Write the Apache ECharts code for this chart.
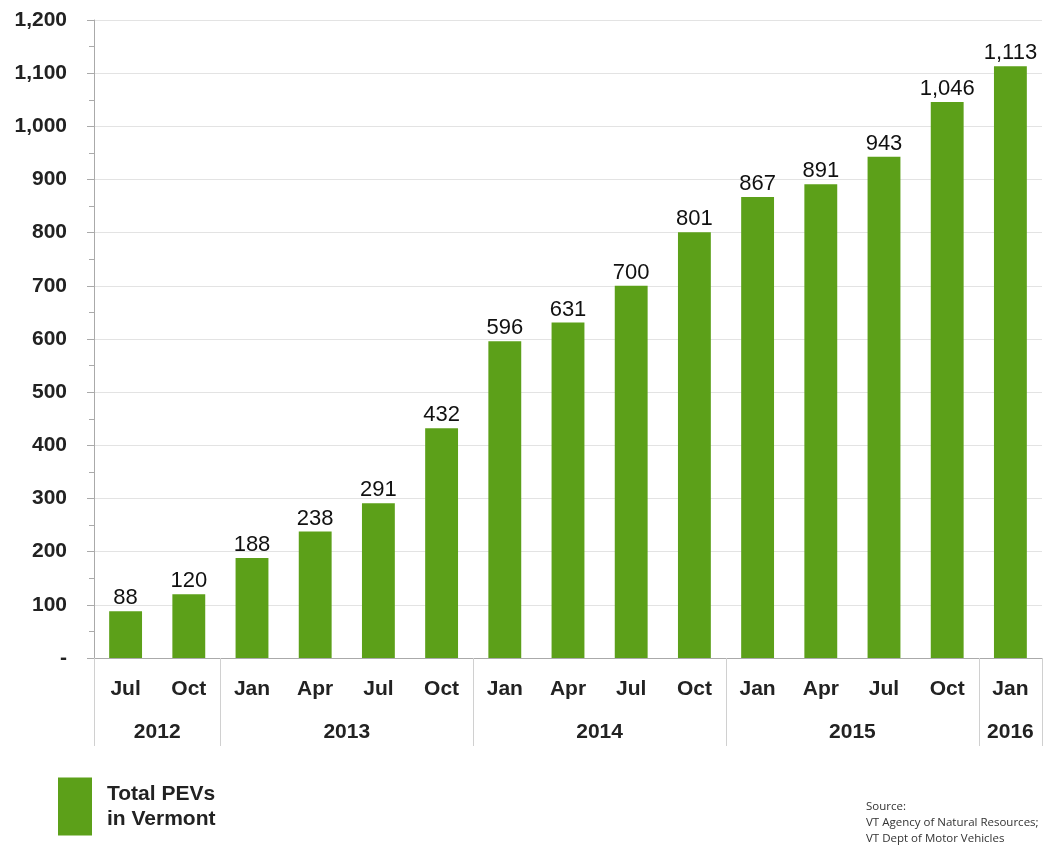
<!DOCTYPE html>
<html lang="en">
<head>
    <meta charset="UTF-8">
    <title>Total PEVs in Vermont</title>
    <script type="text/javascript" src="https://cdn.jsdelivr.net/npm/echarts@6/dist/echarts.min.js"></script>
    <style>
        html, body { margin: 0; padding: 0; background: #fff; }
    </style>
</head>
<body>
    <div id="main" style="width: 1049px;height:848px;"></div>
    <script type="text/javascript">
        const months = ['Jul', 'Oct', 'Jan', 'Apr', 'Jul', 'Oct', 'Jan', 'Apr', 'Jul', 'Oct', 'Jan', 'Apr', 'Jul', 'Oct', 'Jan'];
        const pevCounts = [88, 120, 188, 238, 291, 432, 596, 631, 700, 801, 867, 891, 943, 1046, 1113];
        const years = ['2012', '2013', '2014', '2015', '2016'];
        // where each year group starts and ends, counted in month slots
        const yearBounds = [0, 2, 6, 10, 14, 15];

        const yearCenters = [];
        for (let i = 0; i < years.length; i++) {
            yearCenters.push((yearBounds[i] + yearBounds[i + 1]) / 2);
        }

        function withCommas(v) {
            return String(v).replace(/\B(?=(\d{3})+(?!\d))/g, ',');
        }

        const green = '#5ca019';
        const font = 'Liberation Sans, Arial, sans-serif';

        const myChart = echarts.init(document.getElementById('main'));
        option = {
            animation: false,
            grid: {
                left: 94,
                right: 7,
                top: 20,
                bottom: 190
            },
            legend: {
                left: 58,
                top: 777,
                padding: 0,
                icon: 'rect',
                itemWidth: 34,
                itemHeight: 58,
                itemGap: 0,
                textStyle: {
                    fontFamily: font,
                    fontWeight: 'bold',
                    fontSize: 21,
                    lineHeight: 25,
                    color: '#222',
                    padding: [9, 0, 0, 10]
                },
                data: ['Total PEVs\nin Vermont']
            },
            xAxis: [{
                type: 'category',
                data: months,
                position: 'bottom',
                axisLine: { lineStyle: { color: '#aaa' } },
                axisTick: {
                    interval: 0,
                    length: 42,
                    lineStyle: { color: '#d0d0d0' }
                },
                axisLabel: {
                    interval: 0,
                    margin: 21,
                    fontFamily: font,
                    fontWeight: 'bold',
                    fontSize: 21,
                    color: '#222'
                }
            }, {
                type: 'value',
                min: 0,
                max: 15,
                position: 'bottom',
                axisLine: { show: false },
                splitLine: { show: false },
                axisTick: {
                    customValues: yearBounds,
                    length: 88,
                    lineStyle: { color: '#d0d0d0' }
                },
                axisLabel: {
                    customValues: yearCenters,
                    margin: 64,
                    fontFamily: font,
                    fontWeight: 'bold',
                    fontSize: 21,
                    color: '#222',
                    formatter: function (v) {
                        return years[yearCenters.indexOf(v)];
                    }
                }
            }],
            yAxis: {
                type: 'value',
                min: 0,
                max: 1200,
                interval: 100,
                axisLine: { show: true, lineStyle: { color: '#aaa' } },
                axisTick: { show: true, length: 7, lineStyle: { color: '#aaa' } },
                minorTick: { show: true, splitNumber: 2, length: 5, lineStyle: { color: '#aaa' } },
                splitLine: { lineStyle: { color: '#e3e3e3' } },
                axisLabel: {
                    margin: 27,
                    fontFamily: font,
                    fontWeight: 'bold',
                    fontSize: 21,
                    color: '#222',
                    formatter: function (v) {
                        return v === 0 ? '-' : withCommas(v);
                    }
                }
            },
            series: [{
                name: 'Total PEVs\nin Vermont',
                type: 'bar',
                data: pevCounts,
                barWidth: '52%',
                itemStyle: { color: green },
                label: {
                    show: true,
                    position: 'top',
                    distance: 2,
                    fontFamily: font,
                    fontSize: 22,
                    color: '#111',
                    formatter: function (p) {
                        return withCommas(p.value);
                    }
                }
            }],
            graphic: [{
                type: 'text',
                left: 866,
                top: 799,
                style: {
                    text: 'Source:\nVT Agency of Natural Resources;\nVT Dept of Motor Vehicles',
                    font: '11.5px "Open Sans", sans-serif',
                    lineHeight: 16,
                    fill: '#333'
                }
            }]
        };
        myChart.setOption(option);
    </script>
</body>
</html>
